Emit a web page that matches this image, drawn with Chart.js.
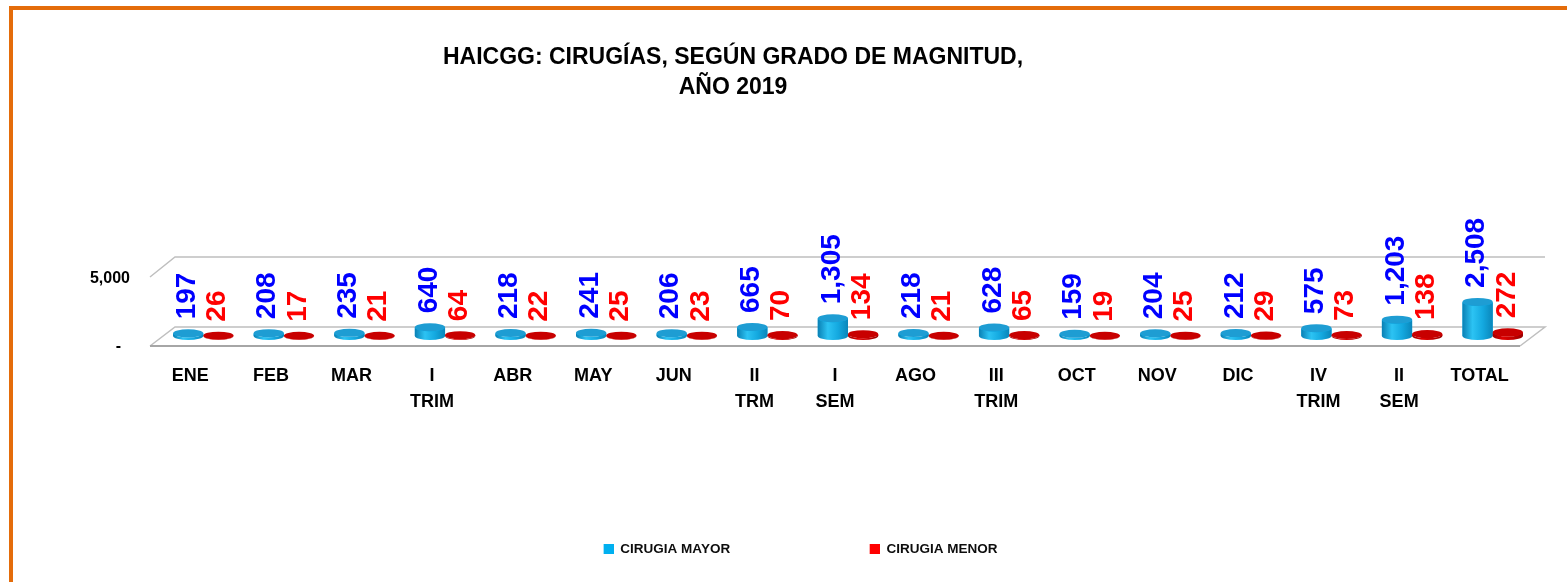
<!DOCTYPE html>
<html><head><meta charset="utf-8">
<script src="https://cdn.jsdelivr.net/npm/chart.js@4.4.1/dist/chart.umd.min.js"></script>
<style>html,body{margin:0;padding:0;background:#fff;overflow:hidden}canvas{display:block}</style>
</head><body>
<canvas id="c" width="1567" height="582"></canvas>
<script>
const categories = ['ENE','FEB','MAR',['I','TRIM'],'ABR','MAY','JUN',['II','TRM'],['I','SEM'],'AGO',['III','TRIM'],'OCT','NOV','DIC',['IV','TRIM'],['II','SEM'],'TOTAL'];
const cirugiaMayor = [197,208,235,640,218,241,206,665,1305,218,628,159,204,212,575,1203,2508];
const cirugiaMenor = [26,17,21,64,22,25,23,70,134,21,65,19,25,29,73,138,272];
const seriesNames = ['CIRUGIA MAYOR','CIRUGIA MENOR'];
const yTicks = [0, 5000];
const yTickLabels = ['-  ', '5,000'];
const titleLines = ['HAICGG: CIRUGÍAS, SEGÚN GRADO DE MAGNITUD,', 'AÑO 2019'];

const FONT = "'Liberation Sans', Arial, sans-serif";
Chart.defaults.font.family = FONT;

const legendColors = ['#00B0F0', '#FF0000'];
const labelColors = ['#0000FF', '#FF0000'];
const pal = [
  {stops: ['#0A80B4', '#2CC3F3', '#14A9E0', '#0A86BA'], top: '#1E9DD3'},
  {stops: ['#9C0000', '#E00000', '#C40000', '#960000'], top: '#C80000'}
];

function swatch(color) {
  const c = document.createElement('canvas');
  c.width = 25; c.height = 10;
  const g = c.getContext('2d');
  g.fillStyle = color;
  g.fillRect(15, 0, 10, 10);
  return c;
}
const swatches = legendColors.map(swatch);

const deco = {
  id: 'deco',
  beforeDraw(chart) {
    const ctx = chart.ctx;
    ctx.save();
    ctx.fillStyle = '#E46C0A';
    ctx.fillRect(9, 6, chart.width - 9, 4);
    ctx.fillRect(9, 6, 4, chart.height - 6);
    ctx.fillStyle = '#000';
    ctx.font = 'bold 23px ' + FONT;
    ctx.textAlign = 'center';
    ctx.textBaseline = 'middle';
    titleLines.forEach((t, i) => ctx.fillText(t, 733, 58 + i * 30));
    ctx.restore();
  },
  beforeDatasetsDraw(chart) {
    const ctx = chart.ctx;
    const {left: L, right: R} = chart.chartArea;
    const y0 = chart.scales.y.getPixelForValue(0);
    const yT = chart.scales.y.getPixelForValue(5000);
    ctx.save();
    ctx.strokeStyle = '#BFBFBF';
    ctx.lineWidth = 1.5;
    ctx.beginPath();
    ctx.moveTo(L - 13, yT + 9); ctx.lineTo(L + 12, yT - 11); ctx.lineTo(R + 12, yT - 11);
    ctx.moveTo(L - 13, y0 + 10); ctx.lineTo(L + 12, y0 - 9); ctx.lineTo(R + 12, y0 - 9); ctx.lineTo(R - 13, y0 + 10);
    ctx.stroke();
    ctx.strokeStyle = '#A6A6A6';
    ctx.lineWidth = 2;
    ctx.beginPath();
    ctx.moveTo(L - 13, y0 + 10); ctx.lineTo(R - 13, y0 + 10);
    ctx.stroke();
    ctx.restore();
  },
  afterDatasetsDraw(chart) {
    const ctx = chart.ctx;
    ctx.save();
    chart.data.datasets.forEach((ds, di) => {
      const meta = chart.getDatasetMeta(di);
      meta.data.forEach((bar) => {
        const {x, y, base, width} = bar.getProps(['x', 'y', 'base', 'width'], true);
        const rx = width / 2, ry = 4;
        const g = ctx.createLinearGradient(x - rx, 0, x + rx, 0);
        pal[di].stops.forEach((c, k) => g.addColorStop(k / (pal[di].stops.length - 1), c));
        ctx.fillStyle = g;
        ctx.beginPath();
        ctx.moveTo(x - rx, y);
        ctx.lineTo(x - rx, base);
        ctx.ellipse(x, base, rx, ry, 0, Math.PI, 0, true);
        ctx.lineTo(x + rx, y);
        ctx.ellipse(x, y, rx, ry, 0, 0, Math.PI, false);
        ctx.closePath();
        ctx.fill();
        ctx.fillStyle = pal[di].top;
        ctx.beginPath();
        ctx.ellipse(x, y, rx, ry, 0, 0, Math.PI * 2);
        ctx.fill();
      });
    });
    ctx.font = 'bold 28px ' + FONT;
    ctx.textAlign = 'left';
    ctx.textBaseline = 'middle';
    chart.data.datasets.forEach((ds, di) => {
      const meta = chart.getDatasetMeta(di);
      meta.data.forEach((bar, i) => {
        const {x, y} = bar.getProps(['x', 'y'], true);
        ctx.save();
        ctx.translate(x - 1, y - 14);
        ctx.rotate(-Math.PI / 2);
        ctx.fillStyle = labelColors[di];
        ctx.fillText(ds.data[i].toLocaleString('en-US'), 0, 0);
        ctx.restore();
      });
    });
    ctx.restore();
  }
};

new Chart(document.getElementById('c'), {
  type: 'bar',
  data: {
    labels: categories,
    datasets: [
      {label: seriesNames[0], data: cirugiaMayor, backgroundColor: legendColors[0], borderWidth: 0},
      {label: seriesNames[1], data: cirugiaMenor, backgroundColor: legendColors[1], borderWidth: 0}
    ]
  },
  options: {
    responsive: false,
    devicePixelRatio: 1,
    animation: false,
    datasets: {bar: {categoryPercentage: 0.75, barPercentage: 1.0}},
    layout: {padding: {top: 268, left: 53, right: 34, bottom: 16.25}},
    plugins: {
      title: {display: false},
      tooltip: {enabled: false},
      legend: {
        position: 'bottom',
        labels: {
          padding: 124.5,
          usePointStyle: true,
          pointStyleWidth: 25,
          boxHeight: 10,
          color: '#0D0D0D',
          font: {size: 13.5, weight: 'bold'},
          generateLabels: (chart) => Chart.defaults.plugins.legend.labels.generateLabels(chart).map((l, i) => Object.assign(l, {pointStyle: swatches[i], fillStyle: legendColors[i], strokeStyle: legendColors[i], lineWidth: 0}))
        }
      }
    },
    scales: {
      x: {
        grid: {display: false, drawTicks: false},
        border: {display: false},
        afterFit(s) { s.height = 81.75; },
        ticks: {
          color: '#000',
          padding: 27,
          labelOffset: -13,
          maxRotation: 0,
          autoSkip: false,
          font: {size: 18, weight: 'bold', lineHeight: 1.44}
        }
      },
      y: {
        min: 0,
        max: 5000,
        grid: {display: false, drawTicks: false},
        border: {display: false},
        afterFit(s) { s.width = 110; },
        afterBuildTicks(s) { s.ticks = yTicks.map(v => ({value: v})); },
        ticks: {
          color: '#000',
          padding: 33,
          labelOffset: 11,
          font: {size: 16, weight: 'bold'},
          callback: (v) => yTickLabels[yTicks.indexOf(v)]
        }
      }
    }
  },
  plugins: [deco]
});
</script>
</body></html>
